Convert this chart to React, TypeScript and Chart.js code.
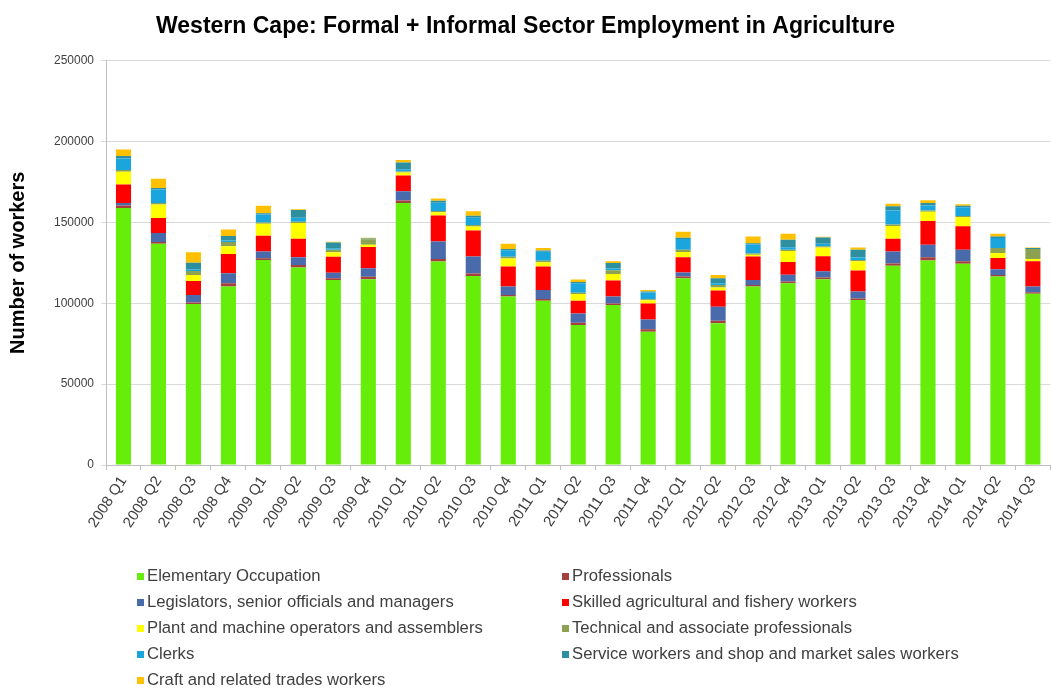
import React, { useEffect, useRef } from 'react';
import { Chart, registerables } from 'chart.js';

Chart.register(...registerables);

const categories = [
  '2008 Q1', '2008 Q2', '2008 Q3', '2008 Q4',
  '2009 Q1', '2009 Q2', '2009 Q3', '2009 Q4',
  '2010 Q1', '2010 Q2', '2010 Q3', '2010 Q4',
  '2011 Q1', '2011 Q2', '2011 Q3', '2011 Q4',
  '2012 Q1', '2012 Q2', '2012 Q3', '2012 Q4',
  '2013 Q1', '2013 Q2', '2013 Q3', '2013 Q4',
  '2014 Q1', '2014 Q2', '2014 Q3',
];

const seriesNames = [
  'Elementary Occupation',
  'Professionals',
  'Legislators, senior officials and managers',
  'Skilled agricultural and fishery workers',
  'Plant and machine operators and assemblers',
  'Technical and associate professionals',
  'Clerks',
  'Service workers and shop and market sales workers',
  'Craft and related trades workers',
];

const seriesColors = [
  '#66ee0a', '#a5403f', '#4a6bab', '#ff0000', '#ffff00',
  '#8ca252', '#1aa6dc', '#2e8f9e', '#ffc000',
];

const elementary = [158900, 136800, 99500, 110300, 126800, 122100, 114400, 114900, 162000, 125800, 116900, 104100, 101600, 86500, 98900, 82400, 115500, 87600, 110300, 112400, 114900, 102000, 123100, 126400, 124400, 116500, 105800];
const professionals = [1500, 1000, 1000, 2000, 1000, 1500, 1000, 1500, 1500, 1500, 1500, 1000, 1000, 1500, 1000, 1500, 1000, 1500, 1000, 1000, 1000, 1000, 1500, 2000, 1500, 1000, 1000];
const legislators = [1600, 5600, 4600, 6200, 4200, 4900, 3500, 5300, 5700, 10900, 10500, 5200, 5600, 5700, 4200, 6100, 2500, 8800, 3100, 4200, 3800, 4200, 7400, 7700, 7200, 3500, 3500];
const skilled = [11400, 9300, 8700, 12000, 9700, 11400, 9900, 13000, 9700, 16100, 16100, 12400, 14500, 7900, 9900, 9900, 9500, 9900, 14500, 7900, 9300, 13000, 7900, 14700, 14500, 7000, 15700];
const plant = [7900, 8300, 3700, 4800, 7400, 9700, 2700, 1500, 2000, 2000, 2500, 5000, 2700, 4100, 4100, 2000, 3100, 2000, 1000, 6800, 5400, 5800, 7900, 5800, 5600, 3100, 1400];
const technical = [1000, 1000, 2500, 2500, 800, 800, 1500, 3300, 500, 800, 800, 1000, 800, 800, 2300, 500, 1500, 1500, 800, 800, 800, 800, 800, 800, 800, 3100, 6200];
const clerks = [7200, 8300, 1000, 1000, 5000, 2500, 1000, 0, 1500, 5000, 4500, 4100, 5600, 5800, 1000, 4300, 6600, 1000, 5600, 1500, 1500, 1500, 8700, 3000, 5400, 6200, 0];
const service = [1500, 1000, 4000, 2700, 800, 4700, 3500, 500, 4100, 1200, 1300, 800, 800, 800, 3500, 500, 800, 3100, 800, 4700, 3900, 4700, 2700, 1500, 800, 800, 500];
const craft = [4100, 5600, 6500, 4100, 4500, 500, 500, 500, 1500, 1500, 2700, 3100, 1500, 1500, 1000, 1000, 3700, 2000, 4100, 3700, 500, 1500, 1500, 1700, 1000, 1700, 300];

const seriesValues = [elementary, professionals, legislators, skilled, plant, technical, clerks, service, craft];

const yTicks = [0, 50000, 100000, 150000, 200000, 250000];

const FONT = "'Liberation Sans', Arial, sans-serif";

export default function App() {
  const ref = useRef<HTMLCanvasElement>(null);

  useEffect(() => {
    const chart = new Chart(ref.current as HTMLCanvasElement, {
      type: 'bar',
      data: {
        labels: categories,
        datasets: seriesNames.map((name, i) => ({
          label: name,
          data: seriesValues[i],
          backgroundColor: seriesColors[i],
          borderWidth: 0,
          barPercentage: 0.9,
          categoryPercentage: 0.48,
        })),
      },
      options: {
        responsive: false,
        animation: false,
        layout: { padding: { left: 0, right: 0, top: 0, bottom: 128 } },
        plugins: {
          legend: { display: false },
          tooltip: { enabled: false },
          title: {
            display: true,
            text: 'Western Cape: Formal + Informal Sector Employment in Agriculture',
            color: '#000000',
            font: { family: FONT, size: 23, weight: 'bold' },
            padding: { top: 13, bottom: 20 },
          },
        },
        scales: {
          x: {
            stacked: true,
            grid: {
              display: true,
              drawOnChartArea: false,
              offset: true,
              tickLength: 5,
              color: '#bfbfbf',
            },
            border: { display: true, color: '#bfbfbf' },
            ticks: {
              autoSkip: false,
              minRotation: 57,
              maxRotation: 57,
              color: '#404040',
              padding: 3,
              font: { family: FONT, size: 15 },
            },
            afterFit: (scale: any) => {
              scale.height = 97;
            },
          },
          y: {
            stacked: true,
            min: 0,
            max: 250000,
            afterBuildTicks: (scale: any) => {
              scale.ticks = yTicks.map((v) => ({ value: v }));
            },
            grid: { color: '#d9d9d9', tickLength: 5 },
            border: { display: true, color: '#bfbfbf' },
            ticks: {
              color: '#404040',
              padding: 7,
              font: { family: FONT, size: 12 },
              callback: (v: any) => String(v),
            },
            title: {
              display: true,
              text: 'Number of workers',
              color: '#000000',
              font: { family: FONT, size: 20, weight: 'bold' },
              padding: { top: 6, bottom: 0 },
            },
            afterFit: (scale: any) => {
              scale.width = 106;
            },
          },
        },
      },
    });
    return () => chart.destroy();
  }, []);

  const legendPositions = [
    { left: 137, top: 576 },
    { left: 562, top: 576 },
    { left: 137, top: 602 },
    { left: 562, top: 602 },
    { left: 137, top: 628 },
    { left: 562, top: 628 },
    { left: 137, top: 654 },
    { left: 562, top: 654 },
    { left: 137, top: 680 },
  ];

  return (
    <div style={{ position: 'absolute', left: 0, top: 0, width: 1051, height: 690, background: '#ffffff', overflow: 'hidden' }}>
      <canvas ref={ref} width={1051} height={690} style={{ display: 'block' }} />
      {seriesNames.map((name, i) => (
        <div
          key={name}
          style={{
            position: 'absolute',
            left: legendPositions[i].left,
            top: legendPositions[i].top - 11,
            height: 22,
            display: 'flex',
            alignItems: 'center',
            fontFamily: FONT,
            fontSize: 16.7,
            color: '#404040',
            whiteSpace: 'nowrap',
          }}
        >
          <span style={{ display: 'inline-block', width: 7, height: 7, background: seriesColors[i], marginRight: 3 }} />
          <span>{name}</span>
        </div>
      ))}
    </div>
  );
}
